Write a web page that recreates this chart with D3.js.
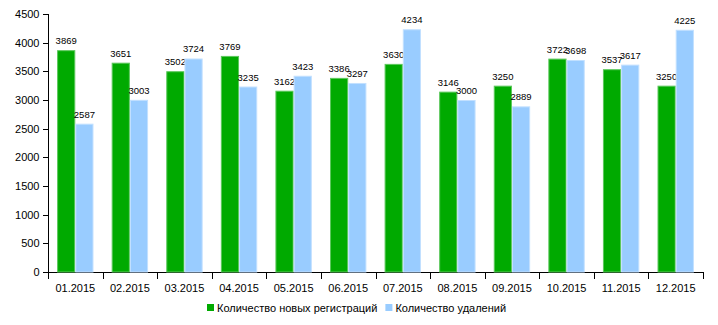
<!DOCTYPE html>
<html>
<head>
<meta charset="utf-8">
<script src="https://cdn.jsdelivr.net/npm/d3@7"></script>
<style>
  body { margin: 0; background: #fff; }
  svg { display: block; font-family: "Liberation Sans", Arial, sans-serif; }
  .axis path, .axis line { stroke: #000; shape-rendering: crispEdges; }
  .axis text { fill: #000; font-size: 11px; }
</style>
</head>
<body>
<svg id="chart" width="718" height="325"></svg>
<script>
// Monthly registrations vs. deletions, 2015
const months = ["01.2015","02.2015","03.2015","04.2015","05.2015","06.2015",
                "07.2015","08.2015","09.2015","10.2015","11.2015","12.2015"];
const registrations = [3869, 3651, 3502, 3769, 3162, 3386, 3630, 3146, 3250, 3722, 3537, 3250];
const deletions     = [2587, 3003, 3724, 3235, 3423, 3297, 4234, 3000, 2889, 3698, 3617, 4225];
const seriesNames = ["Количество новых регистраций", "Количество удалений"];
const yTicks = [0, 500, 1000, 1500, 2000, 2500, 3000, 3500, 4000, 4500];

const colors = ["#00aa00", "#99ccff"];
const strokes = ["#5cc85c", "#c2e0ff"];

const svg = d3.select("#chart");
const plotLeft = 48, plotRight = 703, plotTop = 14, plotBottom = 272;

const x = d3.scaleBand().domain(months).range([plotLeft, plotRight]).paddingInner(0).paddingOuter(0);
const inner = d3.scaleBand().domain([0, 1]).range([0, x.bandwidth()]).paddingOuter(0.5).paddingInner(0);
const y = d3.scaleLinear().domain([0, 4500]).range([plotBottom, plotTop]);

// Axes
svg.append("g").attr("class", "axis")
  .attr("transform", `translate(${plotLeft + 0.5},0)`)
  .call(d3.axisLeft(y).tickValues(yTicks).tickFormat(d3.format("d")).tickSize(6).tickPadding(3))
  .call(g => g.select(".domain").attr("d", `M0,${plotBottom}V${plotTop}`));

const xAxis = svg.append("g").attr("class", "axis")
  .attr("transform", `translate(0,${plotBottom})`)
  .call(d3.axisBottom(x).tickSize(0).tickPadding(12));
xAxis.select(".domain").attr("d", `M${plotLeft},0.5H${plotRight}`);
// tick marks at band boundaries
const bounds = months.map(m => x(m)).concat([x(months[months.length - 1]) + x.bandwidth()]);
xAxis.selectAll(".bound").data(bounds).join("line")
  .attr("class", "bound")
  .attr("x1", d => Math.round(d) + 0.5).attr("x2", d => Math.round(d) + 0.5)
  .attr("y1", 0).attr("y2", 7);

// Bars with value labels
const series = [registrations, deletions];
series.forEach((vals, s) => {
  const g = svg.append("g");
  g.selectAll("rect").data(vals).join("rect")
    .attr("x", (d, i) => x(months[i]) + inner(s) + 0.5)
    .attr("y", d => y(d) + 0.5)
    .attr("width", inner.bandwidth() - 1)
    .attr("height", d => plotBottom - y(d) - 0.5)
    .attr("fill", colors[s])
    .attr("stroke", strokes[s])
    .attr("stroke-width", 1);
  g.selectAll("text").data(vals).join("text")
    .attr("x", (d, i) => x(months[i]) + inner(s) + inner.bandwidth() / 2)
    .attr("y", d => y(d) - 6)
    .attr("text-anchor", "middle")
    .attr("font-size", "9.5px")
    .attr("fill", "#000")
    .text(d => d);
});

// Legend
const legend = svg.append("g").attr("transform", "translate(207,304)");
let lx = 0;
seriesNames.forEach((name, i) => {
  const item = legend.append("g").attr("transform", `translate(${lx},0)`);
  item.append("rect").attr("x", 0).attr("y", 0).attr("width", 7).attr("height", 7)
    .attr("fill", colors[i]);
  const t = item.append("text").attr("x", 10).attr("y", 8)
    .attr("font-size", "11px").attr("fill", "#000").text(name);
  lx += 10 + t.node().getComputedTextLength() + 8;
});
</script>
</body>
</html>
